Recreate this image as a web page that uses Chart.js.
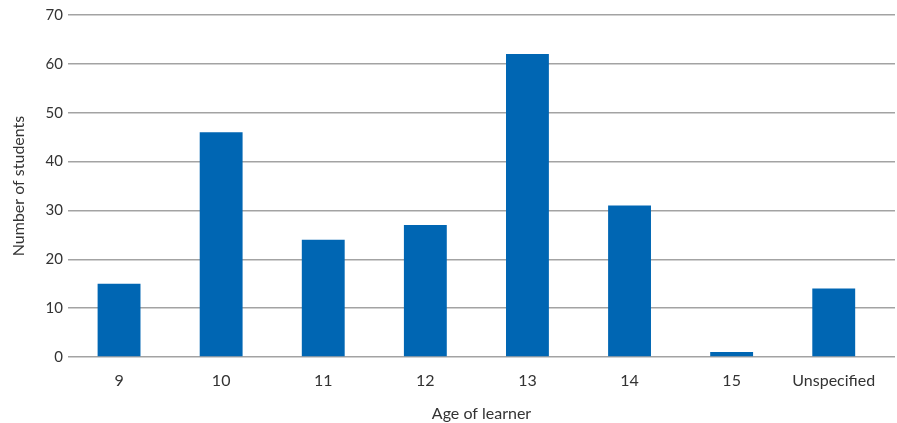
<!DOCTYPE html>
<html>
<head>
<meta charset="utf-8">
<script src="https://cdn.jsdelivr.net/npm/chart.js@4"></script>
<style>
  html, body { margin: 0; padding: 0; background: #fff; }
  #wrap { width: 897px; height: 423px; }
</style>
</head>
<body>
<div id="wrap"><canvas id="chart"></canvas></div>
<script>
// ==================== DADOS ====================
const categorias = ["9", "10", "11", "12", "13", "14", "15", "Unspecified"];
const alunos = [15, 46, 24, 27, 62, 31, 1, 14];
const yTicks = [0, 10, 20, 30, 40, 50, 60, 70];

const corBarra = "#0066b3";
const corGrade = "#a3a3a3";
const corTexto = "#333333";

Chart.defaults.font.family = "Lato, sans-serif";
Chart.defaults.font.size = 15;
Chart.defaults.color = corTexto;

// posição de cada categoria no eixo x (índice)
const pontos = alunos.map((v, i) => ({ x: i, y: v }));

new Chart(document.getElementById("chart"), {
  type: "bar",
  data: {
    datasets: [
      {
        label: "Number of students",
        data: pontos,
        backgroundColor: corBarra,
        barPercentage: 0.42,
        categoryPercentage: 1,
      },
    ],
  },
  options: {
    responsive: true,
    maintainAspectRatio: false,
    animation: false,
    layout: { padding: { top: 15, right: 2, left: 0, bottom: 0 } },
    plugins: {
      legend: { display: false },
      tooltip: { enabled: false },
    },
    scales: {
      x: {
        type: "linear",
        offset: false,
        min: -0.5,
        max: 7.6,
        afterBuildTicks: (axis) => {
          axis.ticks = categorias.map((c, i) => ({ value: i }));
        },
        grid: { display: false, drawTicks: false },
        border: { display: false },
        ticks: {
          color: corTexto,
          font: { size: 16 },
          padding: 14,
          maxRotation: 0,
          autoSkip: false,
          callback: (value) => categorias[value],
        },
        title: {
          display: true,
          text: "Age of learner",
          color: corTexto,
          font: { size: 16 },
          padding: { top: 6, bottom: 0 },
        },
        afterFit: (axis) => { axis.height = 66; },
      },
      y: {
        min: 0,
        max: 70,
        afterBuildTicks: (axis) => {
          axis.ticks = yTicks.map((v) => ({ value: v }));
        },
        grid: { color: corGrade, lineWidth: 1.5, drawTicks: true, tickLength: 5, tickColor: "rgba(0,0,0,0)" },
        border: { display: false },
        ticks: { color: corTexto, padding: 0 },
        title: {
          display: true,
          text: "Number of students",
          color: corTexto,
          font: { size: 16 },
          padding: { top: 9, bottom: 4 },
        },
        afterFit: (axis) => { axis.width = 68; },
      },
    },
  },
});
</script>
</body>
</html>
